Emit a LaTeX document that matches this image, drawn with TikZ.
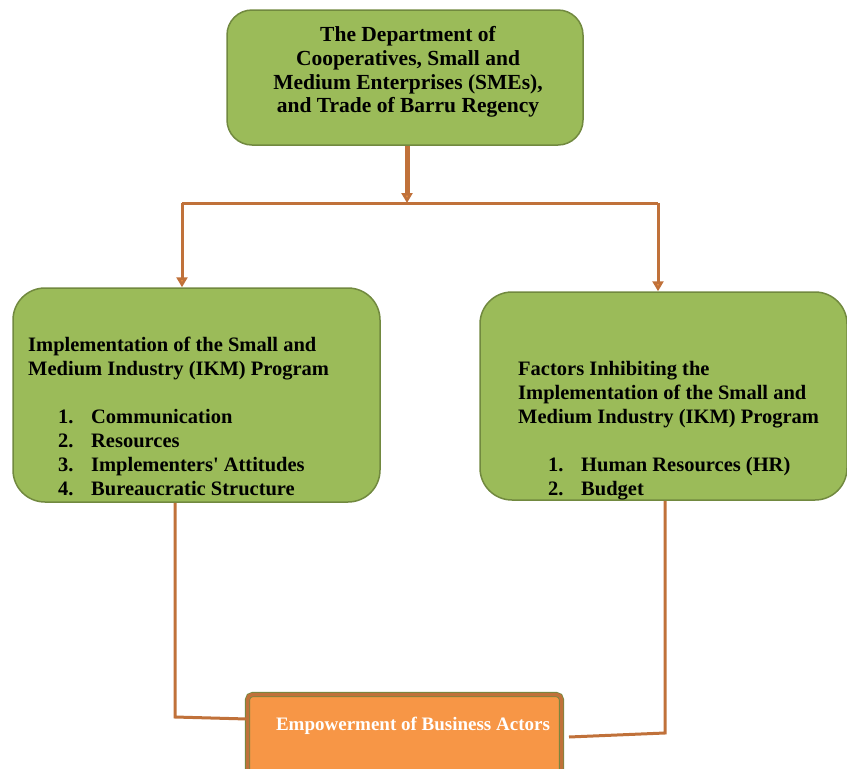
\documentclass[tikz,border=0pt]{standalone}
\usepackage{fontspec}
\setmainfont{Liberation Serif}
\usepackage{xcolor}
\usetikzlibrary{positioning,calc,arrows.meta}
\definecolor{boxgreen}{HTML}{9BBB59}
\definecolor{boxline}{HTML}{71893F}
\definecolor{linkc}{HTML}{C0713A}
\definecolor{boxorange}{HTML}{F79646}
\newcommand{\ikmitem}[1]{\hspace*{30pt}\makebox[33pt][l]{#1}}

\begin{document}
\begin{tikzpicture}[x=1pt, y=-1pt,
    greenbox/.style={draw=boxline, fill=boxgreen, line width=1.5pt, rectangle, rounded corners=32pt, inner sep=0pt},
    boxtext/.style={font=\fontsize{20.5}{24}\selectfont\bfseries, inner sep=0pt},
    link/.style={draw=linkc, line width=3pt},
    tip/.style={-{Triangle[length=10pt, width=11pt, fill=boxorange!70!linkc]}}]
    \useasboundingbox (0,0) rectangle (847,769);
    \clip (0,0) rectangle (847,769);

    \node [greenbox, rounded corners=25pt, minimum width=356pt, minimum height=135pt] (dept) at (405,77.5) {};
    \node [boxtext, font=\fontsize{21.5}{23.7}\selectfont\bfseries, align=center] (depttext) at (408,72) {The Department of\\Cooperatives, Small and\\Medium Enterprises (SMEs),\\and Trade of Barru Regency};

    \node [greenbox, minimum width=367pt, minimum height=214pt] (lbox) at (196.5,395) {};
    \node [boxtext, align=left, anchor=north west] (ltext) at (28,337) {Implementation of the Small and\\Medium Industry (IKM) Program\\[24pt]\ikmitem{1.}Communication\\\ikmitem{2.}Resources\\\ikmitem{3.}Implementers\textquotesingle{} Attitudes\\\ikmitem{4.}Bureaucratic Structure};

    \node [greenbox, minimum width=367pt, minimum height=208pt] (rbox) at (663.5,396) {};
    \node [boxtext, align=left, anchor=north west] (rtext) at (518,361) {Factors Inhibiting the\\Implementation of the Small and\\Medium Industry (IKM) Program\\[24pt]\ikmitem{1.}Human Resources (HR)\\\ikmitem{2.}Budget};

    \node [draw=boxline, double=linkc, double distance=3.5pt, line width=0.8pt, fill=boxorange, rounded corners=5pt, minimum width=314pt, minimum height=104pt] (emp) at (404.5,746.5) {};
    \node [font=\fontsize{19}{22}\selectfont\bfseries, text=white, inner sep=0pt] (emptext) at (413,726) {Empowerment of Business Actors};

    \coordinate (split) at (407,203);
    \coordinate (lsplit) at (182,203);
    \coordinate (rsplit) at (658,203);
    \draw [link, line width=5pt, tip] (split |- dept.south) -- (split);
    \draw [link] (lsplit) -- (rsplit);
    \draw [link, tip] (lsplit) -- (lsplit |- lbox.north);
    \draw [link, tip] (rsplit) -- (rsplit |- rbox.north);

    \coordinate (lbend) at (175,717);
    \coordinate (rbend) at (665,733);
    \coordinate (rend) at (569,737);
    \draw [link] (lbend |- lbox.south) -- (lbend) -- (emp.west |- 0,719);
    \draw [link] (rbend |- rbox.south) -- (rbend) -- (rend);
\end{tikzpicture}
\end{document}
